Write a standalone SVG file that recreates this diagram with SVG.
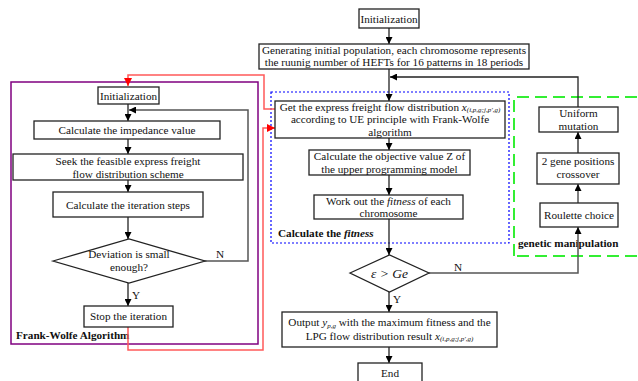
<svg xmlns="http://www.w3.org/2000/svg" width="638" height="381" viewBox="0 0 638 381" font-family="'Liberation Serif', 'Times New Roman', serif">
<defs>
<marker id="ah" viewBox="0 0 10 10" refX="10" refY="5" markerWidth="7" markerHeight="7" markerUnits="userSpaceOnUse" orient="auto"><path d="M0,0 L10,5 L0,10 z" fill="#000"/></marker>
<marker id="ahr" viewBox="0 0 10 10" refX="10" refY="5" markerWidth="8" markerHeight="8" markerUnits="userSpaceOnUse" orient="auto"><path d="M0,0 L10,5 L0,10 z" fill="#f00"/></marker>
<style>
text{font-family:'Liberation Serif','Times New Roman',serif;font-size:11.2px;fill:#111;}
.c{text-anchor:middle;}
.b{font-weight:bold;}
.box{fill:#fff;stroke:#222;stroke-width:1.3;}
.ln{fill:none;stroke:#222;stroke-width:1.3;}
.gl{fill:none;stroke:#555;stroke-width:1.5;}
.rl{fill:none;stroke:#ff5a5a;stroke-width:1.5;}
.sub{font-size:7px;font-style:italic;}
</style>
</defs>
<rect width="638" height="381" fill="#fff"/>

<g id="frames">
<rect x="11" y="82" width="247" height="262" fill="none" stroke="#800080" stroke-width="1.5"/>
<rect x="271" y="92" width="238" height="151" fill="none" stroke="#0000ff" stroke-width="1.2" stroke-dasharray="2,2"/>
<path d="M514,256 L514,97 L637,97 M637,256 L514,256" fill="none" stroke="#33ee33" stroke-width="2" stroke-dasharray="12,6"/>
<text x="16" y="339" class="b">Frank-Wolfe Algorithm</text>
<text x="278" y="237" class="b">Calculate the <tspan font-style="italic">fitness</tspan></text>
<text x="518" y="247" class="b">genetic manipulation</text>
</g>

<g id="connectors">
<path class="ln" d="M128,104 L128,121" marker-end="url(#ah)"/>
<path class="gl" d="M129,261 L248,261 L248,110 L129,110" marker-end="url(#ah)"/>
<path class="ln" d="M128,139 L128,154" marker-end="url(#ah)"/>
<path class="ln" d="M128,180 L128,192" marker-end="url(#ah)"/>
<path class="ln" d="M128,217 L128,239" marker-end="url(#ah)"/>
<path class="ln" d="M128,283 L128,306" marker-end="url(#ah)"/>
<path class="ln" d="M389,28 L389,44" marker-end="url(#ah)"/>
<path class="ln" d="M389,69 L389,101" marker-end="url(#ah)"/>
<path class="ln" d="M389,138 L389,150" marker-end="url(#ah)"/>
<path class="ln" d="M389,175 L389,195" marker-end="url(#ah)"/>
<path class="ln" d="M389,219 L389,255" marker-end="url(#ah)"/>
<path class="ln" d="M389,292 L389,312" marker-end="url(#ah)"/>
<path class="ln" d="M389,347 L389,363" marker-end="url(#ah)"/>
<path class="gl" d="M429,273 L578,273 L578,227" marker-end="url(#ah)"/>
<path class="gl" d="M578,203 L578,184" marker-end="url(#ah)"/>
<path class="ln" d="M578,153 L578,132" marker-end="url(#ah)"/>
<path class="ln" d="M578,107 L578,77 L390,77" marker-end="url(#ah)"/>
<path class="rl" d="M275,109 L264,109 L264,75 L128,75 L128,86" marker-end="url(#ahr)"/>
<path class="rl" d="M128,327 L128,350 L263,350 L263,128 L275,128" marker-end="url(#ahr)"/>
<text x="216" y="258">N</text>
<text x="132" y="299">Y</text>
<text x="454" y="271">N</text>
<text x="393" y="303">Y</text>
</g>

<g id="fw-init"><rect class="box" x="98" y="87" width="61" height="17"/><text class="c" x="128.5" y="99.5">Initialization</text></g>
<g id="fw-impedance"><rect class="box" x="34" y="121" width="186" height="18"/><text class="c" x="127" y="134">Calculate  the impedance value</text></g>
<g id="fw-seek"><rect class="box" x="13" y="154" width="230" height="26"/><text class="c" x="128" y="164.5">Seek the feasible express freight</text><text class="c" x="128" y="177.5">flow distribution scheme</text></g>
<g id="fw-steps"><rect class="box" x="53" y="192" width="150" height="25"/><text class="c" x="128" y="208.5">Calculate the iteration steps</text></g>
<g id="fw-dev"><path class="box" d="M53,261 L129,239 L205,261 L129,283 Z"/><text class="c" x="129" y="257.5">Deviation is small</text><text class="c" x="129" y="271">enough?</text></g>
<g id="fw-stop"><rect class="box" x="84" y="306" width="89" height="21"/><text class="c" x="128.5" y="320">Stop the iteration</text></g>

<g id="init"><rect class="box" x="359" y="9" width="60" height="19"/><text class="c" x="389" y="22.5">Initialization</text></g>
<g id="gen"><rect class="box" x="259" y="44" width="270" height="25"/><text class="c" x="394" y="54">Generating initial population, each chromosome represents</text><text class="c" x="394" y="66">the ruunig number of HEFTs for 16 patterns in 18 periods</text></g>
<g id="get"><rect class="box" x="275" y="101" width="230" height="37"/><text class="c" x="390" y="110.5">Get the express freight flow distribution <tspan font-style="italic">x</tspan><tspan class="sub" dy="1">(i,p,g;j,p',g)</tspan></text><text class="c" x="390" y="123">according to UE principle with Frank-Wolfe</text><text class="c" x="390" y="135.5">algorithm</text></g>
<g id="obj"><rect class="box" x="309" y="150" width="161" height="25"/><text class="c" x="389.5" y="160">Calculate the objective value Z of</text><text class="c" x="389.5" y="172.5">the upper programming model</text></g>
<g id="fit"><rect class="box" x="314" y="195" width="149" height="24"/><text class="c" x="388.5" y="204.5">Work out the <tspan font-style="italic">fitness</tspan> of each</text><text class="c" x="388.5" y="217">chromosome</text></g>
<g id="cond"><path class="box" d="M350,273 L389.5,255 L429,273 L389.5,292 Z"/><text class="c" x="389.5" y="278" font-style="italic" font-size="13.5px" style="font-size:13.5px">ε &gt; Ge</text></g>
<g id="out"><rect class="box" x="282" y="312" width="215" height="35"/><text class="c" x="389.5" y="326">Output <tspan font-style="italic">y</tspan><tspan class="sub" dy="1.5">p,g</tspan><tspan dy="-1.5"> with the maximum fitness and the</tspan></text><text class="c" x="389.5" y="339.5">LPG flow distribution result <tspan font-style="italic">x</tspan><tspan class="sub" dy="1.5">(i,p,g;j,p',g)</tspan></text></g>
<g id="end"><rect class="box" x="358" y="363" width="64" height="22"/><text class="c" x="390" y="377">End</text></g>

<g id="mut"><rect class="box" x="539" y="107" width="79" height="25"/><text class="c" x="578.5" y="117">Uniform</text><text class="c" x="578.5" y="129.5">mutation</text></g>
<g id="cross"><rect class="box" x="537" y="153" width="82" height="31"/><text class="c" x="578" y="165">2 gene positions</text><text class="c" x="578" y="178">crossover</text></g>
<g id="roul"><rect class="box" x="540" y="203" width="78" height="24"/><text class="c" x="579" y="219">Roulette choice</text></g>
</svg>
